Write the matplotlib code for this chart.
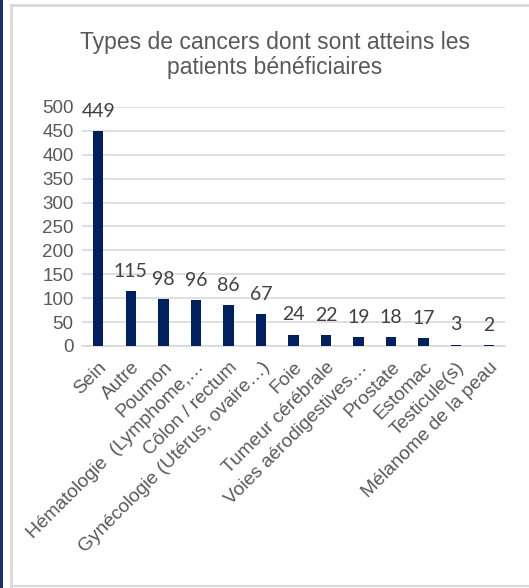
import matplotlib
matplotlib.use("Agg")
import matplotlib.pyplot as plt
from matplotlib.patches import Rectangle
from matplotlib.lines import Line2D

categories = ["Sein", "Autre", "Poumon", "Hématologie  (Lymphome,…",
              "Côlon / rectum", "Gynécologie (Utérus, ovaire…)", "Foie",
              "Tumeur cérébrale", "Voies aérodigestives…", "Prostate",
              "Estomac", "Testicule(s)", "Mélanome de la peau"]
values = [449, 115, 98, 96, 86, 67, 24, 22, 19, 18, 17, 3, 2]
yticks = [0, 50, 100, 150, 200, 250, 300, 350, 400, 450, 500]

NAVY = "#002060"
GREY_TXT = "#595959"
GRID = "#d9d9d9"

W, H = 529, 588
fig = plt.figure(figsize=(W / 100, H / 100), dpi=100)
ax = fig.add_axes([82 / W, 1 - 346 / H, (505 - 82) / W, (346 - 107) / H])

x = range(len(categories))
ax.bar(x, values, width=0.32, color=NAVY, zorder=3)
for i, v in enumerate(values):
    ax.annotate(str(v), xy=(i, v), xytext=(0, 8), textcoords="offset points",
                ha="center", va="bottom", fontsize=14, color="#404040",
                family=["Lato", "DejaVu Sans"])

ax.set_xlim(-0.5, len(categories) - 0.5)
ax.set_ylim(0, 500)
ax.set_yticks(yticks)
ax.grid(True, axis="y", color=GRID, linewidth=1.2, zorder=0)
ax.set_axisbelow(True)
for s in ["top", "right", "left"]:
    ax.spines[s].set_visible(False)
ax.spines["bottom"].set_color(GRID)
ax.spines["bottom"].set_linewidth(1.2)
ax.tick_params(axis="both", length=0, colors=GREY_TXT, labelsize=13.5)
ax.tick_params(axis="y", pad=6)
ax.tick_params(axis="x", pad=9)
ax.set_xticks(list(x))
ax.set_xticklabels(categories, rotation=45, ha="right", rotation_mode="anchor",
                   fontsize=13.8, color=GREY_TXT, family="Liberation Sans")
for lab in ax.get_yticklabels():
    lab.set_family("Liberation Sans")

fig.text(0.5 + 10 / W, 1 - 55 / H,
         "Types de cancers dont sont atteins les\npatients bénéficiaires",
         ha="center", va="center", fontsize=16.5, color=GREY_TXT,
         family="Liberation Sans", linespacing=1.1)

# frame and left accent line
fig.add_artist(Line2D([11 / W, 11 / W], [0, 1 - 5 / H], transform=fig.transFigure,
                      color="#d9d9d9", linewidth=2))
fig.add_artist(Line2D([11 / W, 1], [1 - 5 / H, 1 - 5 / H], transform=fig.transFigure,
                      color="#d9d9d9", linewidth=2))
fig.add_artist(Line2D([11 / W, 1], [2 / H, 2 / H], transform=fig.transFigure,
                      color="#d9d9d9", linewidth=1.5))
fig.add_artist(Rectangle((0, 0), 2.5 / W, 1, transform=fig.transFigure,
                         color="#1b2f6e", linewidth=0))

fig.savefig("out.png", dpi=100)
